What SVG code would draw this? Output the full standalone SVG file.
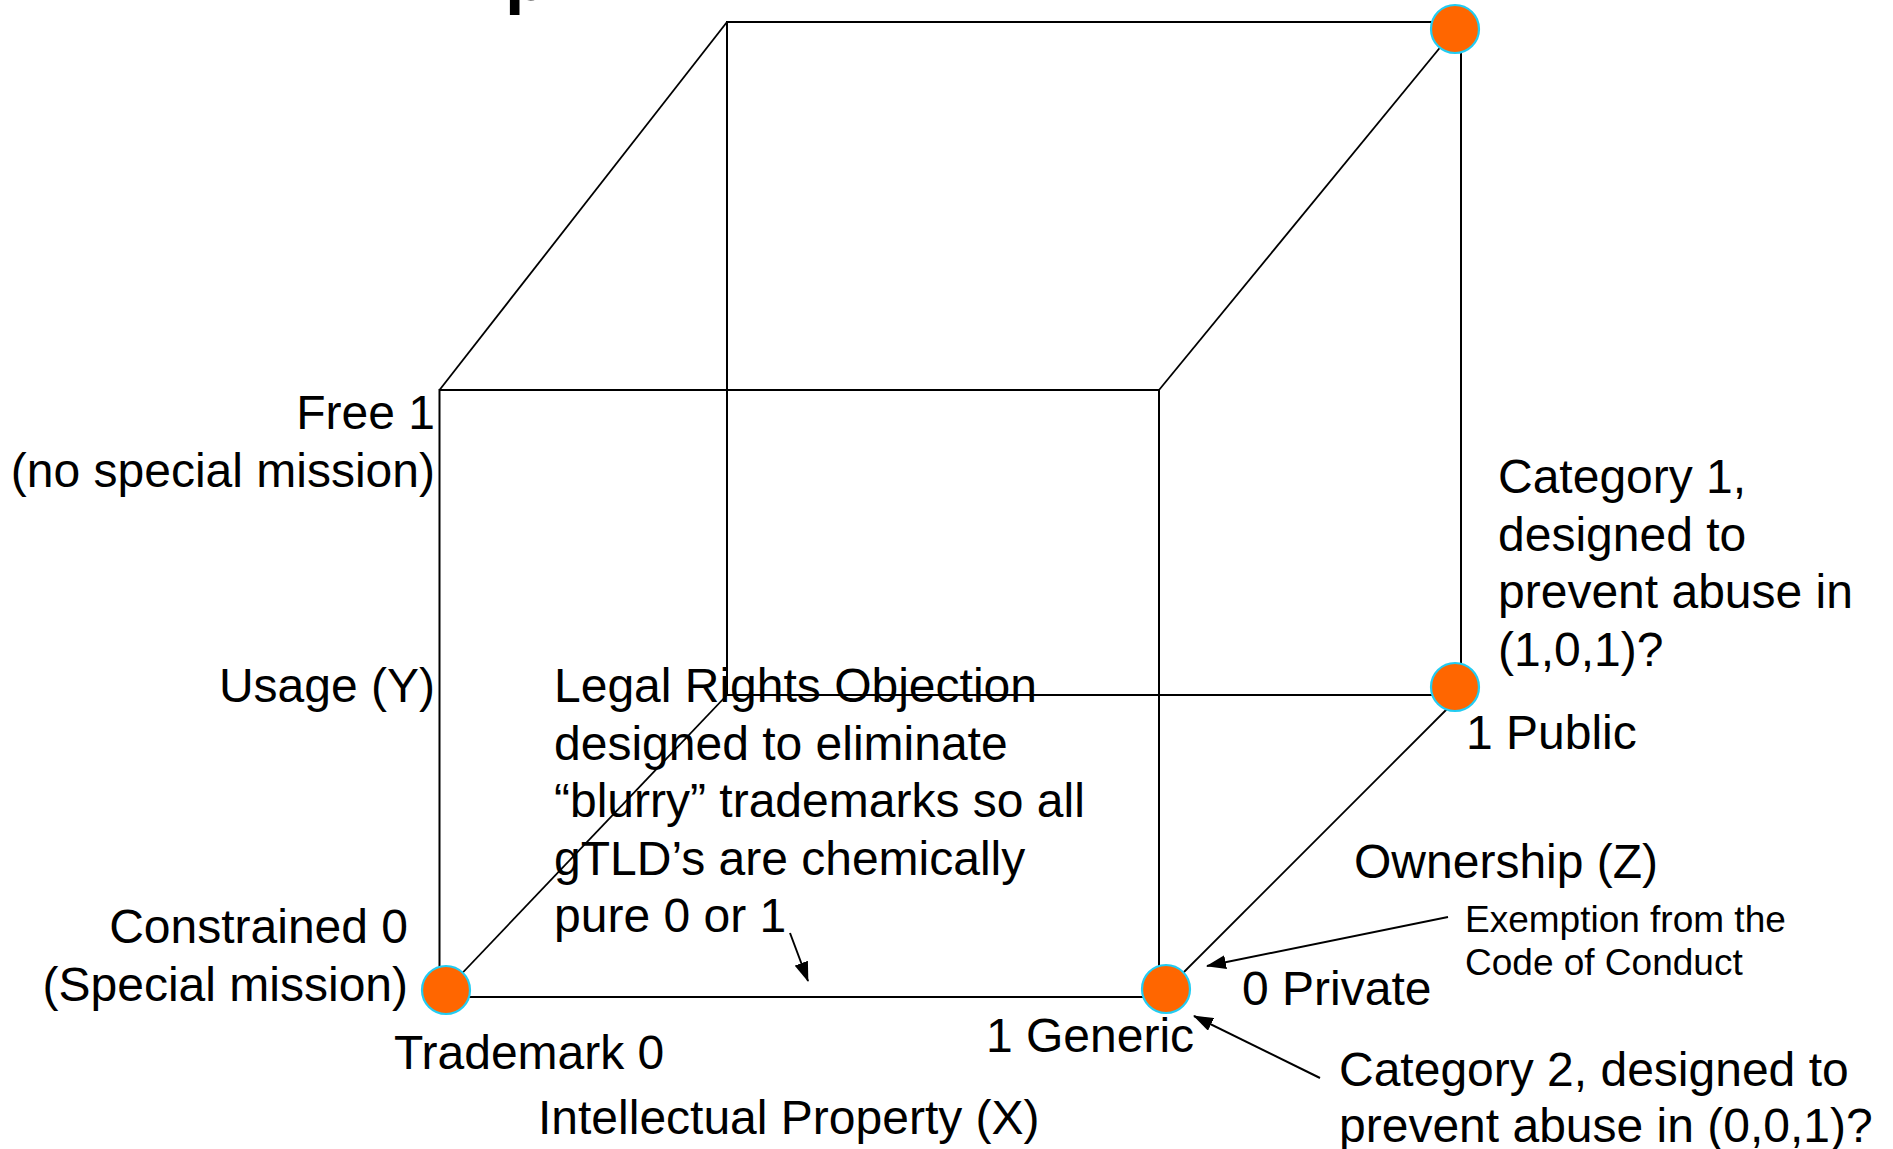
<svg xmlns="http://www.w3.org/2000/svg" width="1893" height="1149" viewBox="0 0 1893 1149">
<style>
text{font-family:"Liberation Sans",Arial,sans-serif;fill:#000}
.t{font-size:48px}
.s{font-size:37px}
.e{text-anchor:end}
.edge{stroke:#000;stroke-width:2;fill:none}
.diag{stroke:#000;stroke-width:1.8;fill:none}
.arr{stroke:#000;stroke-width:2;fill:none;marker-end:url(#ah)}
.pt{fill:#FF6600;stroke:#22CCF2;stroke-width:2.2}
</style>
<defs>
<marker id="ah" markerUnits="userSpaceOnUse" viewBox="0 0 20 14" markerWidth="20" markerHeight="14" refX="19" refY="7" orient="auto">
<path d="M0,0 L20,7 L0,14 z" fill="#000"/>
</marker>
</defs>
<rect width="1893" height="1149" fill="#fff"/>
<text x="505" y="0" style="font-size:70px;font-weight:bold">p</text>
<g id="connectors">
<path class="edge" d="M727,22 H1461 V695 H727 Z"/>
<path class="edge" d="M439.5,390 H1159 V997 H439.5 Z"/>
<line class="diag" x1="439.5" y1="390" x2="727" y2="22"/>
<line class="diag" x1="1159" y1="390" x2="1461" y2="22"/>
<line class="diag" x1="439.5" y1="997" x2="727" y2="695"/>
<line class="diag" x1="1159" y1="997" x2="1461" y2="695"/>
<line class="arr" x1="790" y1="933" x2="808" y2="981"/>
<line class="arr" x1="1448" y1="917" x2="1207" y2="966"/>
<line class="arr" x1="1320" y1="1078" x2="1194" y2="1016"/>
</g>
<g id="node-000">
<circle class="pt" cx="446" cy="990" r="24"/>
</g>
<g id="node-100">
<circle class="pt" cx="1166" cy="989" r="24"/>
</g>
<g id="node-101">
<circle class="pt" cx="1455" cy="687" r="24"/>
</g>
<g id="node-111">
<circle class="pt" cx="1455" cy="29" r="24"/>
</g>
<g id="labels-y">
<text class="t e" x="435" y="429">Free 1</text>
<text class="t e" x="435" y="486.6">(no special mission)</text>
<text class="t e" x="435" y="702">Usage (Y)</text>
<text class="t e" x="408" y="943">Constrained 0</text>
<text class="t e" x="408" y="1000.6">(Special mission)</text>
</g>
<g id="labels-x">
<text class="t" x="394" y="1069">Trademark 0</text>
<text class="t" x="538" y="1134">Intellectual Property (X)</text>
<text class="t" x="986" y="1052">1 Generic</text>
</g>
<g id="labels-z">
<text class="t" x="1242" y="1005">0 Private</text>
<text class="t" x="1354" y="878">Ownership (Z)</text>
<text class="t" x="1466" y="749">1 Public</text>
</g>
<g id="note-exemption">
<text class="s" x="1465" y="932">Exemption from the</text>
<text class="s" x="1465" y="975">Code of Conduct</text>
</g>
<g id="note-category2">
<text class="t" x="1339" y="1086">Category 2, designed to</text>
<text class="t" x="1339" y="1142">prevent abuse in (0,0,1)?</text>
</g>
<g id="note-category1">
<text class="t" x="1498" y="493">Category 1,</text>
<text class="t" x="1498" y="550.6">designed to</text>
<text class="t" x="1498" y="608.2">prevent abuse in</text>
<text class="t" x="1498" y="665.8">(1,0,1)?</text>
</g>
<g id="note-legal">
<text class="t" x="554" y="702">Legal Rights Objection</text>
<text class="t" x="554" y="759.5">designed to eliminate</text>
<text class="t" x="554" y="817">“blurry” trademarks so all</text>
<text class="t" x="554" y="874.5">gTLD’s are chemically</text>
<text class="t" x="554" y="932">pure 0 or 1</text>
</g>
</svg>
